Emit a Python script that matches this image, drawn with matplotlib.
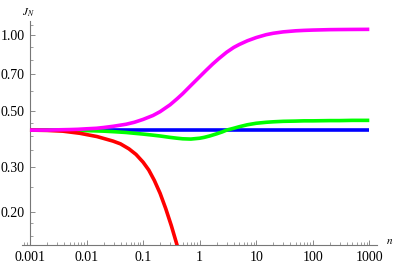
import matplotlib
matplotlib.use("Agg")
import matplotlib.pyplot as plt
from matplotlib.ticker import FixedLocator, FixedFormatter, NullFormatter

plt.rcParams['font.family'] = ['Liberation Serif', 'DejaVu Serif']
plt.rcParams['mathtext.fontset'] = 'stix'

# ---- data ----
x_magenta = [0.001, 0.002, 0.003, 0.005, 0.007, 0.01, 0.015, 0.02, 0.03, 0.05, 0.07,
             0.1, 0.15, 0.2, 0.3, 0.4, 0.5, 0.7, 1.0, 1.3, 1.7, 2.2, 3.0, 4.0, 5.0,
             7.0, 10, 15, 20, 30, 50, 70, 100, 200, 300, 500, 1000]
magenta_vals = [0.421, 0.421, 0.422, 0.423, 0.424, 0.426, 0.428, 0.431, 0.436, 0.444, 0.452,
                0.464, 0.481, 0.498, 0.530, 0.560, 0.586, 0.632, 0.684, 0.725, 0.768, 0.808,
                0.855, 0.893, 0.917, 0.949, 0.977, 1.003, 1.016, 1.029, 1.039, 1.043, 1.046,
                1.050, 1.051, 1.052, 1.053]

x_green = [0.001, 0.002, 0.003, 0.005, 0.007, 0.01, 0.02, 0.03, 0.05, 0.07,
           0.1, 0.15, 0.2, 0.3, 0.4, 0.5, 0.7, 1.0, 1.2, 1.5, 2.0, 2.5, 3.0, 4.0, 5.0,
           7.0, 10, 15, 20, 30, 50, 70, 100, 200, 300, 500, 1000]
green_vals = [0.421, 0.421, 0.421, 0.420, 0.420, 0.419, 0.417, 0.415, 0.412, 0.409,
              0.406, 0.402, 0.399, 0.394, 0.391, 0.389, 0.388, 0.391, 0.394, 0.399, 0.407,
              0.414, 0.421, 0.428, 0.434, 0.442, 0.448, 0.452, 0.454, 0.456, 0.457, 0.458,
              0.458, 0.459, 0.459, 0.460, 0.460]

x_blue = [0.001, 0.01, 0.1, 1, 10, 100, 1000]
blue_vals = [0.421, 0.421, 0.421, 0.421, 0.421, 0.421, 0.421]

x_red = [0.001, 0.002, 0.0038, 0.0076, 0.0153, 0.0293, 0.0398, 0.0562, 0.075, 0.1,
         0.126, 0.158, 0.2, 0.251, 0.316, 0.398, 0.447]
red_vals = [0.421, 0.4198, 0.417, 0.409, 0.397, 0.381, 0.3715, 0.355, 0.3374, 0.3145,
            0.2928, 0.2664, 0.2368, 0.2063, 0.1764, 0.1481, 0.1351]

x_ticks = [0.001, 0.01, 0.1, 1, 10, 100, 1000]
x_ticklabels = ["0.001", "0.01", "0.1", "1", "10", "100", "1000"]
y_ticks = [0.20, 0.30, 0.50, 0.70, 1.00]
y_ticklabels = ["0.20", "0.30", "0.50", "0.70", "1.00"]
y_minor = [0.16, 0.18, 0.25, 0.35, 0.40, 0.45, 0.60, 0.80, 0.90, 1.10]

# ---- figure ----
W, H = 395, 265
fig = plt.figure(figsize=(W / 100, H / 100), dpi=100)
ax = fig.add_axes([22 / W, 20 / H, 355 / W, 224 / H])

ax.set_xscale('log')
ax.set_yscale('log')
ax.set_xlim(10 ** -3.141, 10 ** 3.136)
ax.set_ylim(0.148, 1.136)

lw = 2.6
ax.plot(x_blue, blue_vals, color='#0000FF', lw=lw, solid_capstyle='butt', zorder=3)
ax.plot(x_green, green_vals, color='#00FF00', lw=lw, solid_capstyle='butt', zorder=3)
ax.plot(x_red, red_vals, color='#FF0000', lw=lw, solid_capstyle='butt', zorder=3)
ax.plot(x_magenta, magenta_vals, color='#FF00FF', lw=lw, solid_capstyle='butt', zorder=4)

axcol = '#777777'
for s in ['top', 'right']:
    ax.spines[s].set_visible(False)
ax.spines['left'].set_position(('data', 0.001))
ax.spines['left'].set_color(axcol)
ax.spines['bottom'].set_color(axcol)
ax.spines['left'].set_linewidth(0.8)
ax.spines['bottom'].set_linewidth(0.8)

ax.xaxis.set_major_locator(FixedLocator(x_ticks))
ax.xaxis.set_major_formatter(FixedFormatter(x_ticklabels))
ax.yaxis.set_major_locator(FixedLocator(y_ticks))
ax.yaxis.set_major_formatter(FixedFormatter(y_ticklabels))
ax.yaxis.set_minor_locator(FixedLocator(y_minor))
ax.yaxis.set_minor_formatter(NullFormatter())
ax.xaxis.set_minor_formatter(NullFormatter())

ax.tick_params(axis='both', which='major', direction='in', length=3.5, width=0.6,
               color=axcol, labelsize=10, labelcolor='black')
ax.tick_params(axis='both', which='minor', direction='in', length=2, width=0.5,
               color=axcol)
ax.tick_params(axis='x', which='major', pad=4)
ax.tick_params(axis='y', which='major', pad=4)
ax.patch.set_alpha(0)

fig.text(28 / W, 1 - 13 / H, r'$J_N$', fontsize=8, ha='center', va='center')
fig.text(390 / W, 1 - 242 / H, r'$n$', fontsize=8, ha='center', va='center')

fig.savefig('out.png', dpi=100)
